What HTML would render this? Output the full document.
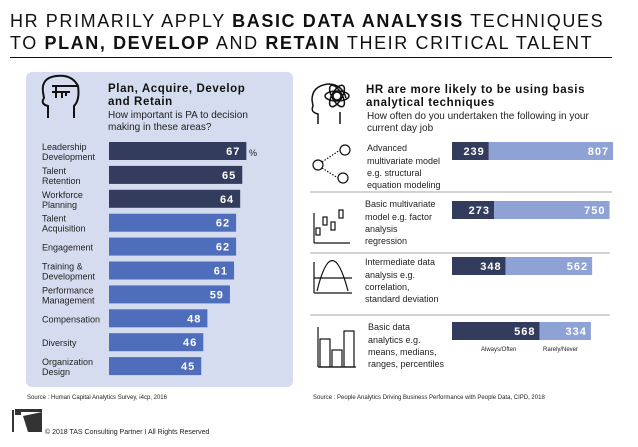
<!DOCTYPE html>
<html><head><meta charset="utf-8"><style>
body{margin:0;background:#fff;font-family:"Liberation Sans",sans-serif;}
svg text{font-family:"Liberation Sans",sans-serif;}
</style></head><body>
<svg width="638" height="442" viewBox="0 0 638 442">
<g font-size="18" fill="#111" letter-spacing="1.6">
<text x="10" y="27">HR PRIMARILY APPLY <tspan font-weight="bold">BASIC DATA ANALYSIS</tspan> TECHNIQUES</text>
<text x="10" y="49">TO <tspan font-weight="bold">PLAN, DEVELOP</tspan> AND <tspan font-weight="bold">RETAIN</tspan> THEIR CRITICAL TALENT</text>
</g>
<line x1="10" y1="57.5" x2="612" y2="57.5" stroke="#111" stroke-width="1"/>

<rect x="26" y="72" width="267" height="315" rx="6" fill="#d5dcef"/>
<g fill="none" stroke="#111" stroke-width="2">
<path d="M48 118 L48 106 Q40 104 44 98 L43 92 Q41 78 56 76 Q72 74 78 86 Q80 100 74 106 L74 118"/>
<path d="M52 86 L78 86 M52 92 L70 92 M56 86 L56 98 M62 92 L62 98 M66 92 L66 96"/>
</g>
<text x="108" y="92" font-size="11.5" font-weight="bold" letter-spacing="0.6" fill="#111">Plan, Acquire, Develop</text>
<text x="108" y="105" font-size="11.5" font-weight="bold" letter-spacing="0.6" fill="#111">and Retain</text>
<text x="108" y="118" font-size="10" fill="#222">How important is PA to decision</text>
<text x="108" y="130" font-size="10" fill="#222">making in these areas?</text>
<g id="leftbars"></g>
<text x="249" y="156" font-size="9" fill="#222">%</text>
<text x="27" y="399" font-size="6" fill="#222">Source : Human Capital Analytics Survey, i4cp, 2016</text>

<g fill="none" stroke="#111" stroke-width="1.5">
<path d="M318 124 L318 114 Q310 112 313 106 L312 100 Q312 86 328 84 Q342 84 346 98 M340 112 L340 124"/>
<circle cx="337" cy="96" r="4"/><ellipse cx="337" cy="96" rx="12" ry="5"/><ellipse cx="337" cy="96" rx="12" ry="5" transform="rotate(60 337 96)"/><ellipse cx="337" cy="96" rx="12" ry="5" transform="rotate(-60 337 96)"/>
</g>
<text x="366" y="93" font-size="11.5" font-weight="bold" letter-spacing="0.6" fill="#111">HR are more likely to be using basis</text>
<text x="366" y="106" font-size="11.5" font-weight="bold" letter-spacing="0.6" fill="#111">analytical techniques</text>
<text x="367" y="119" font-size="10" fill="#222">How often do you undertaken the following in your</text>
<text x="367" y="131" font-size="10" fill="#222">current day job</text>

<g fill="none" stroke="#111" stroke-width="1.2">
<circle cx="345" cy="150" r="5"/><circle cx="318" cy="165" r="5"/><circle cx="343" cy="178" r="5"/>
<path d="M322 162 L340 150 M322 168 L338 178" stroke-dasharray="1.5 1.5"/>
<path d="M314 243 L314 213 M314 243 L350 243"/><rect x="316" y="228" width="4" height="7"/><rect x="323" y="217" width="4" height="8"/><rect x="331" y="222" width="4" height="8"/><rect x="339" y="210" width="4" height="8"/>
<path d="M314 293 L314 262 M314 293 L352 293 M314 278 L352 278 M317 291 Q332 230 348 291"/>
<path d="M318 367 L318 327 M318 367 L356 367"/><rect x="320" y="339" width="10" height="28"/><rect x="332" y="350" width="10" height="17"/><rect x="344" y="331" width="10" height="36"/>
</g>
<g font-size="9" fill="#222">
<text x="367" y="151">Advanced</text><text x="367" y="164">multivariate model</text><text x="367" y="176">e.g. structural</text><text x="367" y="188">equation modeling</text>
<text x="365" y="207">Basic multivariate</text><text x="365" y="220">model e.g. factor</text><text x="365" y="232">analysis</text><text x="365" y="244">regression</text>
<text x="365" y="265">Intermediate data</text><text x="365" y="278">analysis e.g.</text><text x="365" y="290">correlation,</text><text x="365" y="302">standard deviation</text>
<text x="368" y="330">Basic data</text><text x="368" y="343">analytics  e.g.</text><text x="368" y="355">means, medians,</text><text x="368" y="367">ranges, percentiles</text>
</g>
<g stroke="#888" stroke-width="0.8">
<line x1="310" y1="192" x2="612" y2="192"/><line x1="310" y1="253" x2="610" y2="253"/><line x1="310" y1="315" x2="610" y2="315"/>
</g>
<g id="rightbars"></g>
<text x="481" y="351" font-size="6" fill="#222">Always/Often</text>
<text x="543" y="351" font-size="6" fill="#222">Rarely/Never</text>
<text x="313" y="399" font-size="6" fill="#222">Source : People Analytics Driving Business Performance with People Data, CIPD, 2018</text>

<g>
<rect x="12" y="410" width="2" height="22" fill="#333"/><rect x="15" y="412" width="6" height="3" fill="#333"/><rect x="15" y="409" width="27" height="3" fill="#333"/><path d="M23 416 L42 412 L42 432 L28 432 Z" fill="#333"/>
</g>
<text x="45" y="434" font-size="7" fill="#222">© 2018 TAS Consulting Partner  I  All Rights Reserved</text>
</svg>
<script>
const leftCats=["Leadership|Development","Talent|Retention","Workforce|Planning","Talent|Acquisition","Engagement","Training &|Development","Performance|Management","Compensation","Diversity","Organization|Design"];
const leftVals=[67,65,64,62,62,61,59,48,46,45];
const rightAlways=[239,273,348,568];
const rightRarely=[807,750,562,334];
const NS="http://www.w3.org/2000/svg";
function mk(t,a,p){const e=document.createElementNS(NS,t);for(const k in a)e.setAttribute(k,a[k]);p.appendChild(e);return e;}
const lx=v=>109+v*2.05, ly=i=>142+i*23.9;
const lg=document.getElementById('leftbars');
leftVals.forEach((v,i)=>{
 const r=mk('rect',{x:109,y:ly(i),width:lx(v)-109,height:18,fill:i<3?'#343c5e':'#4e6dbb'},lg);
 
 
 const t=mk('text',{x:lx(v)-6,y:ly(i)+13,'font-size':11,'font-weight':'bold','text-anchor':'end',fill:'#fff','letter-spacing':1},lg);t.textContent=v;
 
 
 const parts=leftCats[i].split('|');
 parts.forEach((p,j)=>{const c=mk('text',{x:42,y:ly(i)+(parts.length==1?13:8+j*10),'font-size':9,fill:'#222'},lg);c.textContent=p;
 
 });
});
const rs=0.154, rx0=452, rys=[142,201,257,322];
const rg=document.getElementById('rightbars');
rightAlways.forEach((a,i)=>{
 const b=rightRarely[i], y=rys[i];
 const d=mk('rect',{x:rx0,y:y,width:a*rs,height:18,fill:'#343c5e'},rg);
 
 
 const l=mk('rect',{x:rx0+a*rs,y:y,width:b*rs,height:18,fill:'#8ea2d6'},rg);
 
 
 const t1=mk('text',{x:rx0+a*rs-4,y:y+13,'font-size':11,'font-weight':'bold','text-anchor':'end',fill:'#fff','letter-spacing':1},rg);t1.textContent=a;
 
 
 const t2=mk('text',{x:rx0+(a+b)*rs-4,y:y+13,'font-size':11,'font-weight':'bold','text-anchor':'end',fill:'#fff','letter-spacing':1},rg);t2.textContent=b;
 
 
});
</script>
</body></html>
